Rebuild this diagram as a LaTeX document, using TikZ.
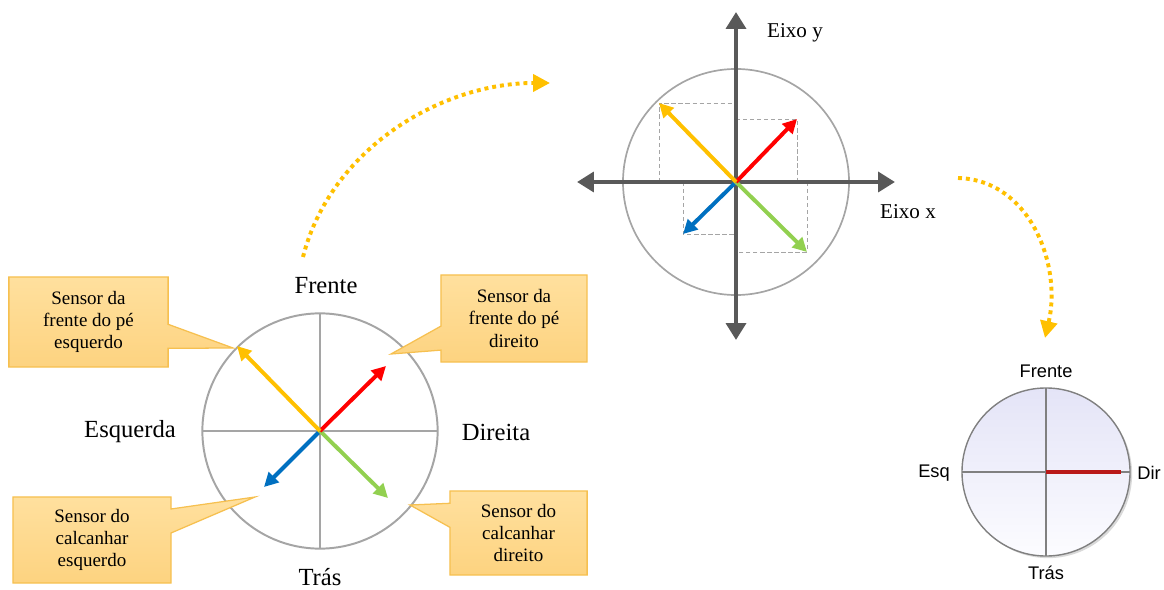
\documentclass[tikz,border=0pt]{standalone}
\usepackage{fontspec}
\setmainfont{Liberation Serif}
\newfontfamily\arialfont{Liberation Sans}
\usetikzlibrary{arrows.meta,shapes.callouts,shadows}
\definecolor{sensyellow}{RGB}{255,192,0}
\definecolor{sensred}{RGB}{255,0,0}
\definecolor{sensblue}{RGB}{0,112,192}
\definecolor{sensgreen}{RGB}{146,208,80}
\definecolor{axisgray}{RGB}{89,89,89}
\definecolor{ringgray}{RGB}{165,165,165}
\definecolor{boxtop}{RGB}{255,224,158}
\definecolor{boxbottom}{RGB}{253,211,128}
\definecolor{boxdraw}{RGB}{246,192,80}
\definecolor{dirred}{RGB}{185,25,25}
\definecolor{dialtop}{RGB}{228,228,247}
\definecolor{dialbottom}{RGB}{252,252,255}

\begin{document}
\begin{tikzpicture}[x=0.025cm, y=-0.025cm,
    dirtext/.style={font=\fontsize{17.5}{20}\selectfont},
    axtext/.style={font=\fontsize{15}{18}\selectfont},
    dialtext/.style={font=\arialfont\fontsize{13}{15}\selectfont},
    sensorbox/.style={rectangle callout, draw=boxdraw, line width=0.9pt,
                top color=boxtop, bottom color=boxbottom, align=center, inner sep=0pt,
                callout pointer width=0.6cm, font=\fontsize{13.5}{15.8}\selectfont},
    vec/.style={-{Triangle[length=10pt,width=10pt]}, line width=2.8pt},
    axisline/.style={{Triangle[length=12pt,width=14pt]}-{Triangle[length=12pt,width=14pt]},
                line width=3.5pt, axisgray},
    proj/.style={ringgray, line width=0.6pt, dash pattern=on 3pt off 2pt},
    flow/.style={-{Triangle[length=12pt,width=12pt]}, sensyellow, line width=2.8pt,
                dash pattern=on 2.8pt off 2.8pt}
  ]
    \useasboundingbox (0,0) rectangle (1164,590);

    % Pe (left dial)
    \coordinate (lc) at (320,431);
    \coordinate (lfl) at (237,346);
    \coordinate (lfr) at (386,366);
    \coordinate (lhl) at (264,487);
    \coordinate (lhr) at (388,498);
    \draw[ringgray, line width=1.4pt] (lc) circle[radius=2.94cm];
    \draw[ringgray, line width=1.4pt] (320,313.4) -- (320,548.6);
    \draw[ringgray, line width=1.4pt] (202.4,431) -- (437.6,431);
    \draw[vec, sensblue] (lc) -- (lhl);
    \draw[vec, sensgreen] (lc) -- (lhr);
    \draw[vec, sensred] (lc) -- (lfr);
    \draw[vec, sensyellow] (lc) -- (lfl);

    \node[dirtext] (front) at (326,286) {Frente};
    \node[dirtext] (back) at (320,577) {Trás};
    \node[dirtext] (left) at (130,432) {Esquerda};
    \node[dirtext] (right) at (496,432) {Direita};

    % Sensores
    \coordinate (tlTip) at (233,348);
    \coordinate (trTip) at (391,354);
    \coordinate (blTip) at (255,497);
    \coordinate (brTip) at (410,505);
    \node[sensorbox, minimum width=3.98cm, minimum height=2.25cm,
          callout absolute pointer={(tlTip)}] (sfl) at (88.5,322) {Sensor da\\frente do pé\\esquerdo};
    \node[sensorbox, minimum width=3.65cm, minimum height=2.18cm,
          callout absolute pointer={(trTip)}] (sfr) at (514,318.5) {Sensor da\\frente do pé\\direito};
    \node[sensorbox, minimum width=3.95cm, minimum height=2.15cm,
          callout absolute pointer={(blTip)}] (shl) at (92,540) {Sensor do\\calcanhar\\esquerdo};
    \node[sensorbox, minimum width=3.43cm, minimum height=2.1cm,
          callout absolute pointer={(brTip)}] (shr) at (518.5,533) {Sensor do\\calcanhar\\direito};

    % Eixos (middle)
    \coordinate (mc) at (736,182);
    \coordinate (mfl) at (659,103);
    \coordinate (mfr) at (797,119);
    \coordinate (mhl) at (683,234);
    \coordinate (mhr) at (807,252);
    \coordinate (xl) at (577,182);
    \coordinate (xr) at (895,182);
    \coordinate (yt) at (736,12);
    \coordinate (yb) at (736,340);
    \draw[proj] (659,182) -- (mfl) -- (736,103);
    \draw[proj] (736,119) -- (mfr) -- (797,182);
    \draw[proj] (683,182) -- (mhl) -- (736,234);
    \draw[proj] (807,182) -- (mhr) -- (736,252);
    \draw[ringgray, line width=1.2pt] (mc) circle[radius=2.825cm];
    \draw[axisline] (xl) -- (xr);
    \draw[axisline] (yt) -- (yb);
    \draw[vec, sensblue] (mc) -- (mhl);
    \draw[vec, sensgreen] (mc) -- (mhr);
    \draw[vec, sensred] (mc) -- (mfr);
    \draw[vec, sensyellow] (mc) -- (mfl);
    \node[axtext] (eixoy) at (795,33) {Eixo y};
    \node[axtext] (eixox) at (908,212) {Eixo x};

    % Resultado (right dial)
    \coordinate (rc) at (1046,472);
    \coordinate (rdir) at (1121,472);
    \path[draw=gray, line width=1pt, top color=dialtop, bottom color=dialbottom,
          drop shadow={opacity=0.3, shadow xshift=1.5pt, shadow yshift=-1.5pt}]
          (rc) circle[radius=2.1cm];
    \draw[gray, line width=0.9pt] (1046,388) -- (1046,556);
    \draw[gray, line width=0.9pt] (962,472) -- (1130,472);
    \draw[dirred, line width=3pt] (rc) -- (rdir);
    \node[dialtext] (rfront) at (1046,371) {Frente};
    \node[dialtext] (rback) at (1046,573) {Trás};
    \node[dialtext] (rleft) at (934,473) {Esq};
    \node[dialtext] (rright) at (1149,473) {Dir};

    % Fluxo
    \coordinate (f1s) at (303,257);
    \coordinate (f1e) at (550,83);
    \coordinate (f2s) at (958,178);
    \coordinate (f2e) at (1045,338);
    \draw[flow] (f1s) .. controls (330,150) and (440,83) .. (f1e);
    \draw[flow] (f2s) .. controls (1030,180) and (1062,265) .. (f2e);
\end{tikzpicture}
\end{document}
